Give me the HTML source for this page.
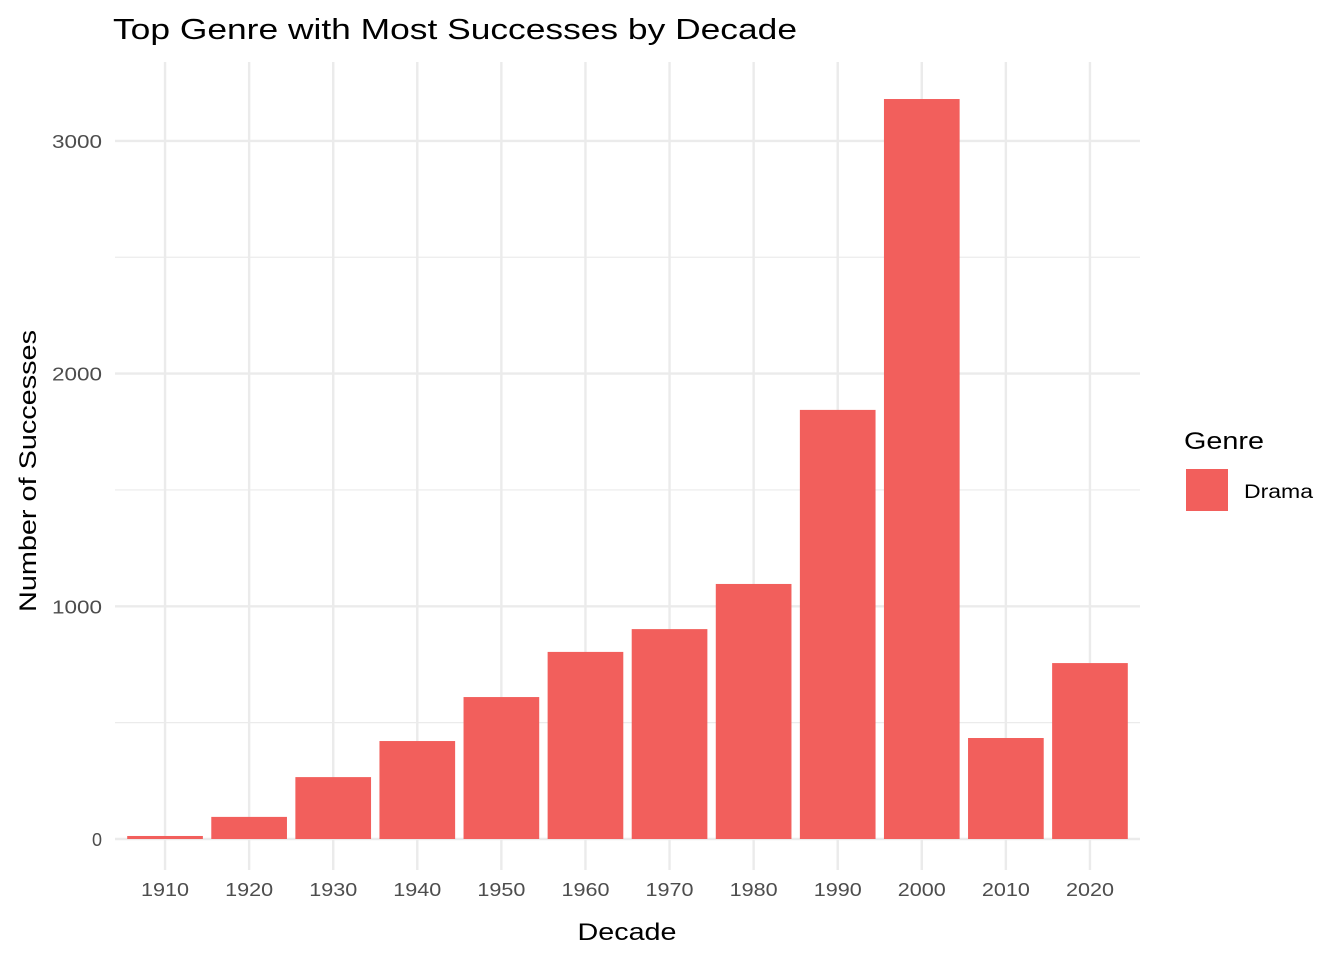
<!DOCTYPE html>
<html><head><meta charset="utf-8"><style>
body{margin:0;background:#fff;font-family:"Liberation Sans",Arial,sans-serif}
</style></head><body>
<svg width="1344" height="960" xmlns="http://www.w3.org/2000/svg" font-family="Liberation Sans, Arial, sans-serif">
<text x="113" y="39" font-size="29" textLength="684" lengthAdjust="spacingAndGlyphs" fill="#000">Top Genre with Most Successes by Decade</text>
<g id="grid"></g>
<g id="bars"></g>
<g id="xt"></g>
<g id="yt"></g>
<text x="627" y="940" font-size="24" textLength="99" lengthAdjust="spacingAndGlyphs" text-anchor="middle">Decade</text>
<text transform="translate(36,471) rotate(-90)" font-size="24" textLength="282" lengthAdjust="spacingAndGlyphs" text-anchor="middle">Number of Successes</text>
<text x="1184" y="449" font-size="24" textLength="80" lengthAdjust="spacingAndGlyphs">Genre</text>
<rect x="1186" y="469" width="42" height="42" fill="#F25F5C"/>
<text x="1244" y="498" font-size="19" textLength="69" lengthAdjust="spacingAndGlyphs">Drama</text>
</svg>
<script>
const decades=["1910","1920","1930","1940","1950","1960","1970","1980","1990","2000","2010","2020"];
const successes=[13,95,266,421,610,804,902,1096,1844,3180,434,756];
const yTicks=[0,1000,2000,3000];
const yMinor=[500,1500,2500];
const NS="http://www.w3.org/2000/svg";
const gx0=115,gx1=1140,yTop=62,yBot=870;
const bx0=123,bx1=1132;
const step=(bx1-bx0)/decades.length;
const xc=i=>bx0+step*(i+0.5);
const y=v=>839-v*0.2327;
const bw=step*0.9;
function mk(t,a,p){const e=document.createElementNS(NS,t);for(const k in a)e.setAttribute(k,a[k]);p.appendChild(e);return e;}
const g=document.getElementById('grid');
yMinor.forEach(v=>{const l=mk('line',{x1:gx0,x2:gx1,y1:y(v),y2:y(v),stroke:'#ebebeb','stroke-width':1.2},g);

});
yTicks.forEach(v=>{const l=mk('line',{x1:gx0,x2:gx1,y1:y(v),y2:y(v),stroke:'#ebebeb','stroke-width':2.4},g);

});
decades.forEach((d,i)=>{const l=mk('line',{x1:xc(i),x2:xc(i),y1:yTop,y2:yBot,stroke:'#ebebeb','stroke-width':2.4},g);

});
const b=document.getElementById('bars');
successes.forEach((v,i)=>{const r=mk('rect',{x:xc(i)-bw/2,y:y(v),width:bw,height:y(0)-y(v),fill:'#F25F5C'},b);

});
const xt=document.getElementById('xt');
decades.forEach((d,i)=>{const t=mk('text',{x:xc(i),y:896,'font-size':18,fill:'#4d4d4d','text-anchor':'middle',textLength:48,lengthAdjust:'spacingAndGlyphs'},xt);t.textContent=d;

});
const yt=document.getElementById('yt');
yTicks.forEach(v=>{const t=mk('text',{x:102,y:y(v)+7,'font-size':18,fill:'#4d4d4d','text-anchor':'end'},yt);t.textContent=v;
if(v>0){t.setAttribute('textLength',50);t.setAttribute('lengthAdjust','spacingAndGlyphs');}

});
</script>
</body></html>
